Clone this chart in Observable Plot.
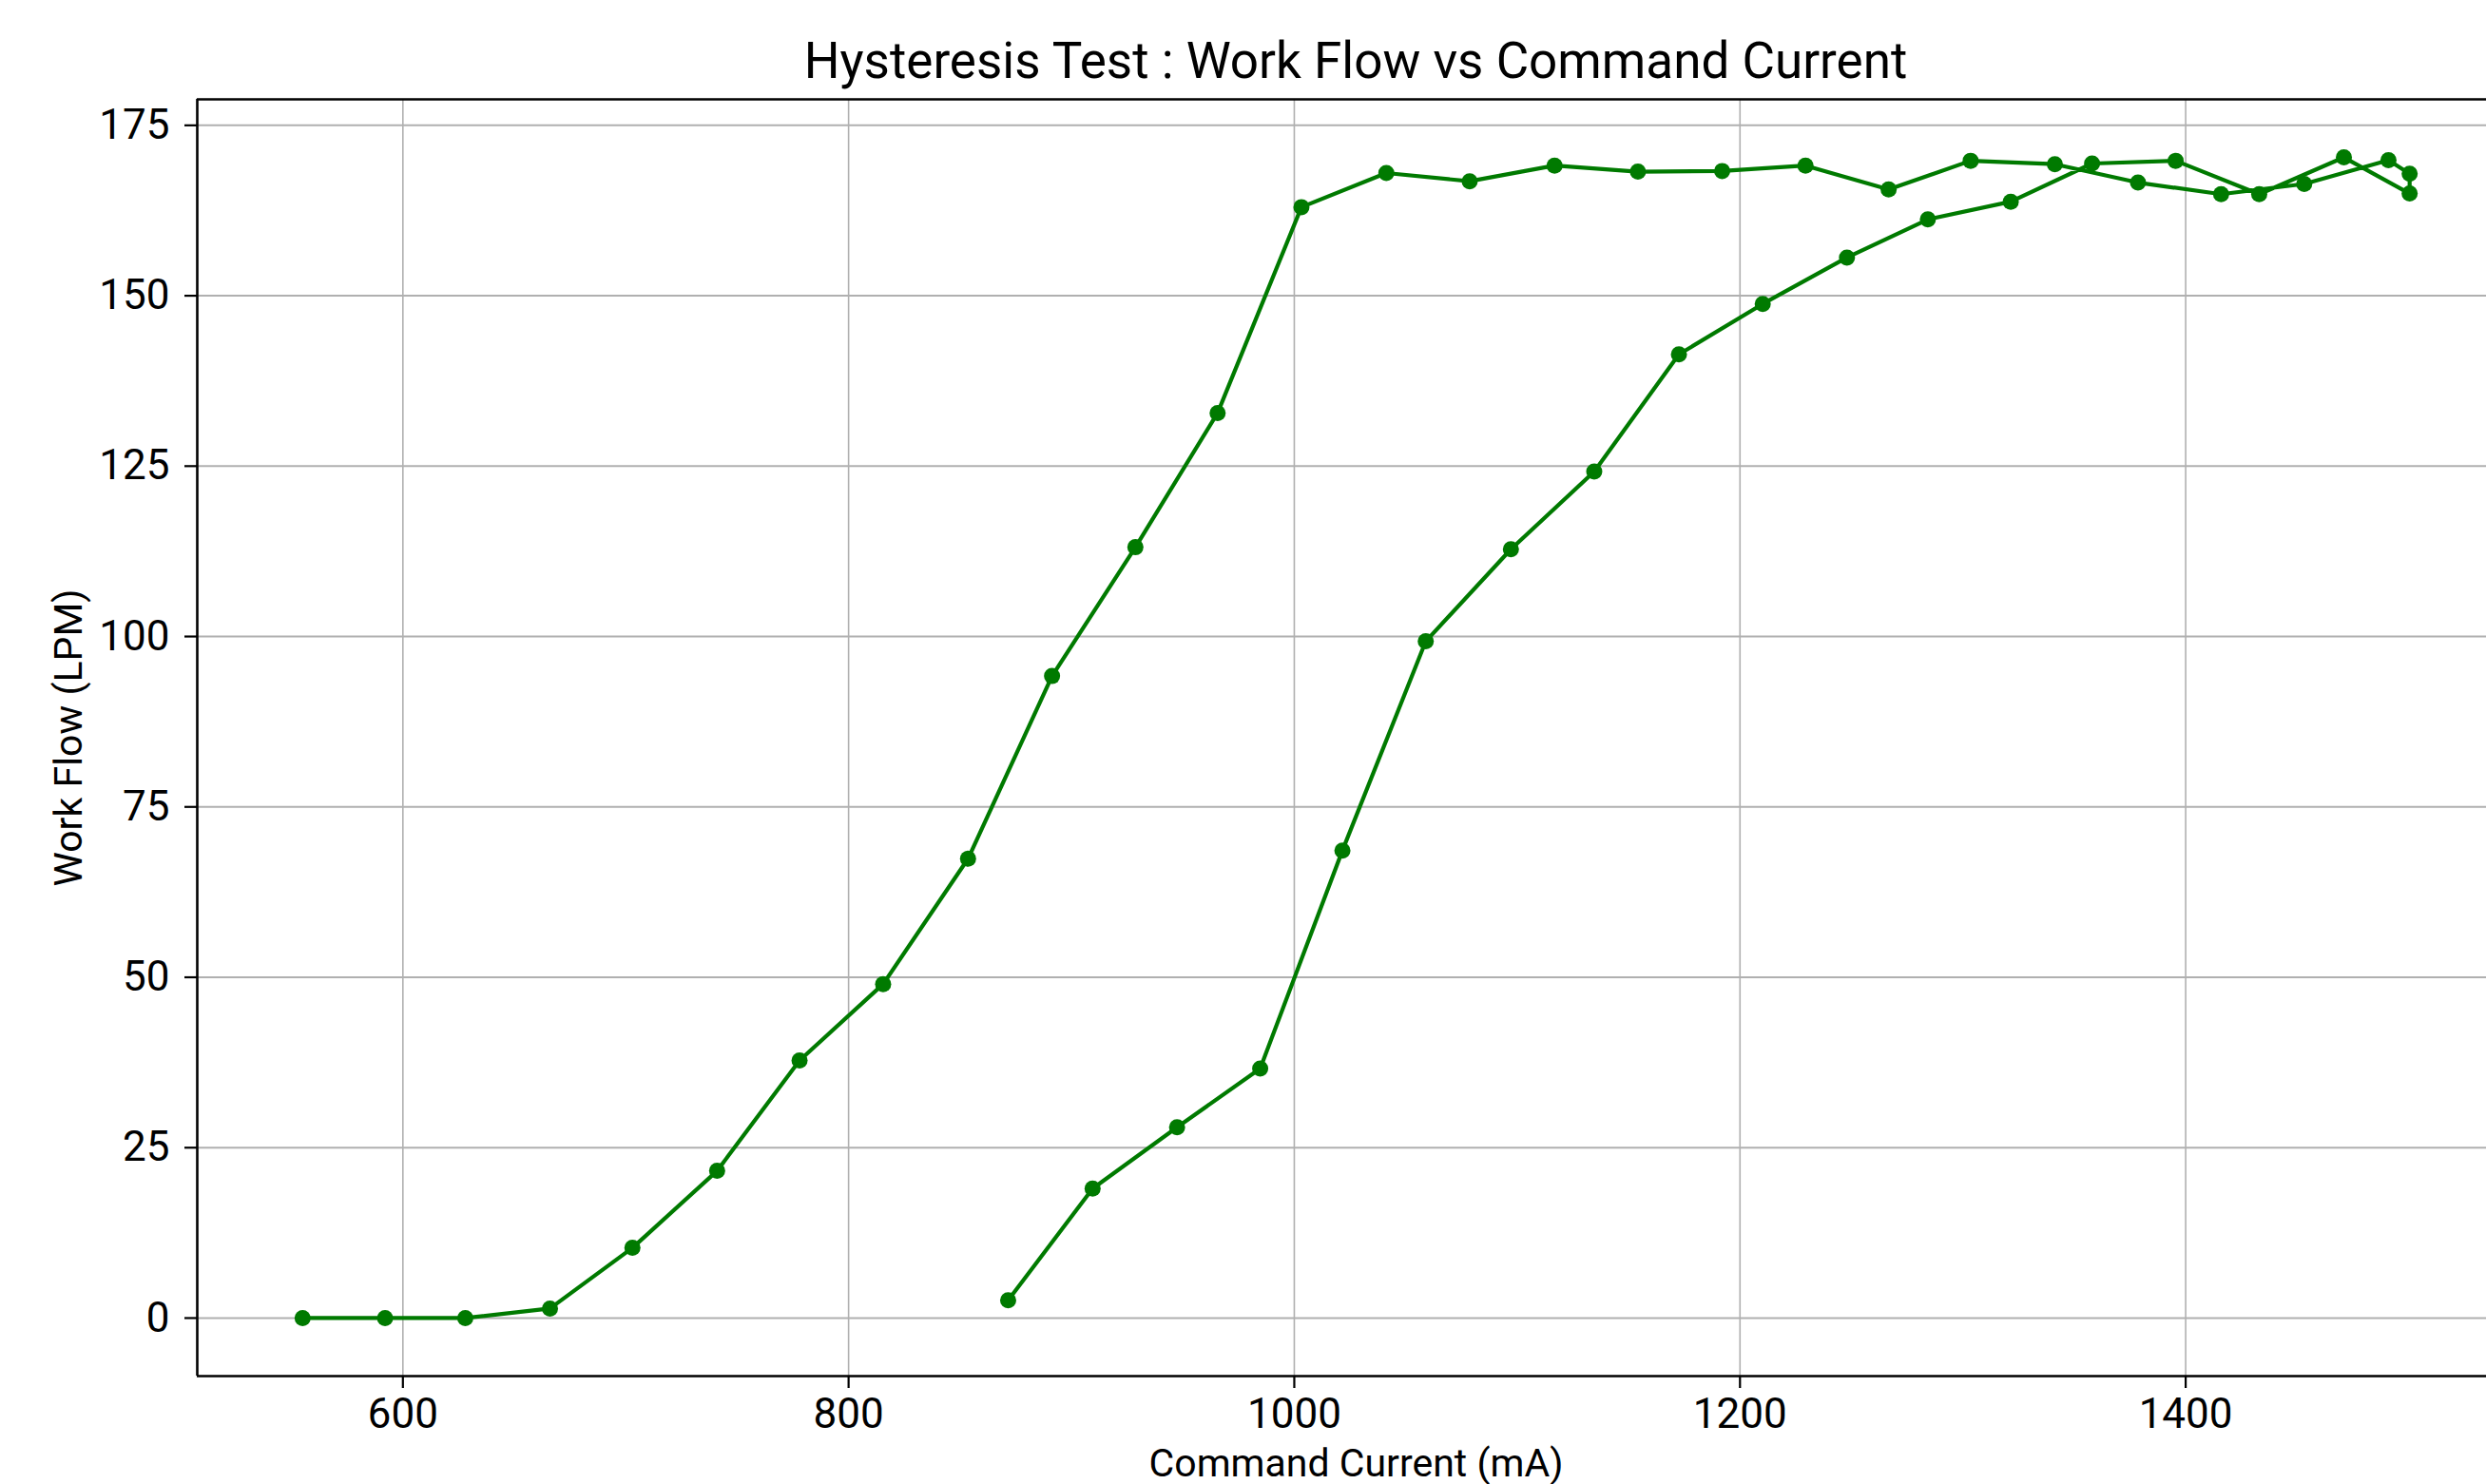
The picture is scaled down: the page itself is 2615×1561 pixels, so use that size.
<!DOCTYPE html>
<html>
<head>
<meta charset="utf-8">
<script src="https://cdn.jsdelivr.net/npm/d3@7"></script>
<script src="https://cdn.jsdelivr.net/npm/@observablehq/plot@0.6"></script>
<style>
  html, body { margin: 0; padding: 0; background: #fff; overflow: hidden; }
  #chart { width: 2660px; }
  #title {
    height: 96px;
    box-sizing: border-box;
    padding-left: 207px;
    padding-right: 15px;
    text-align: center;
    font-family: Roboto, "Open Sans", sans-serif;
    font-size: 53px;
    line-height: 128px;
    color: #000;
    white-space: nowrap;
  }
  #plot svg { max-width: none !important; }
  #plot svg g[aria-label^="x-axis"] path,
  #plot svg g[aria-label^="x-axis"] line,
  #plot svg g[aria-label^="y-axis"] path,
  #plot svg g[aria-label^="y-axis"] line { stroke-width: 2.2px; }
</style>
</head>
<body>
<div id="chart">
  <div id="title">Hysteresis Test : Work Flow vs Command Current</div>
  <div id="plot"></div>
</div>
<script>
// Rising sweep: command current (mA) and measured work flow (LPM)
const upCurrent = [555, 592, 628, 666, 703, 741, 778, 815.5, 853.6, 891.3, 928.7, 965.6,
  1003.2, 1041.3, 1078.7, 1116.8, 1154.2, 1192, 1229.4, 1266.7, 1303.5, 1341.3,
  1378.6, 1415.9, 1453.2, 1491, 1500.5];
const upFlow = [0, 0, 0, 1.4, 10.3, 21.6, 37.8, 49.0, 67.4, 94.2, 113.1, 132.8,
  163.0, 168.0, 166.8, 169.1, 168.2, 168.3, 169.1, 165.6, 169.8, 169.3,
  166.6, 164.9, 166.4, 169.9, 167.9];

// Falling sweep back down from the top current
const downCurrent = [1500.5, 1471, 1433, 1395.5, 1358, 1321.5, 1284.3, 1248, 1210.2,
  1172.6, 1134.6, 1097.2, 1059, 1021.6, 984.7, 947.4, 909.5, 871.6];
const downFlow = [165.0, 170.3, 164.9, 169.8, 169.4, 163.8, 161.2, 155.6, 148.8,
  141.4, 124.2, 112.8, 99.3, 68.6, 36.6, 28.0, 19.0, 2.6];

const xTicks = [600, 800, 1000, 1200, 1400];
const yTicks = [0, 25, 50, 75, 100, 125, 150, 175];

const lineColor = "#007a00";

// One continuous trace: up the rising sweep, then back down
const points = [
  ...upCurrent.map((c, i) => ({current: c, flow: upFlow[i]})),
  ...downCurrent.map((c, i) => ({current: c, flow: downFlow[i]}))
];

// Auto-limits with a 5% margin on each side of the data
function padded(values) {
  const [lo, hi] = d3.extent(values);
  const m = 0.05 * (hi - lo);
  return [lo - m, hi + m];
}
const xDomain = padded(points.map(d => d.current));
const yDomain = padded(points.map(d => d.flow));

const chart = Plot.plot({
  width: 2660,
  height: 1465,
  marginTop: 8,
  marginLeft: 207,
  marginRight: 15,
  marginBottom: 114,
  style: {
    fontFamily: "Roboto, 'Open Sans', sans-serif",
    fontSize: "44px",
    color: "#000",
    background: "#fff",
    overflow: "visible"
  },
  x: {domain: xDomain, ticks: xTicks, tickFormat: "d", tickSize: 13, tickPadding: 10, label: null},
  y: {domain: yDomain, ticks: yTicks, tickFormat: "d", tickSize: 13, tickPadding: 16, label: null},
  marks: [
    Plot.ruleX(xTicks, {stroke: "#b0b0b0", strokeWidth: 1.6}),
    Plot.ruleY(yTicks, {stroke: "#b0b0b0", strokeWidth: 2}),
    Plot.line(points, {x: "current", y: "flow", stroke: lineColor, strokeWidth: 4.2}),
    Plot.dot(points, {x: "current", y: "flow", r: 8.5, fill: lineColor, stroke: "none"}),
    // axes box: bottom, top and left spines
    Plot.ruleY(yDomain, {stroke: "#000", strokeWidth: 2.6}),
    Plot.ruleX(xDomain.slice(0, 1), {stroke: "#000", strokeWidth: 2.6}),
    Plot.text(["Command Current (mA)"], {
      text: d => d, frameAnchor: "bottom", lineAnchor: "middle", textAnchor: "middle",
      dy: 92, fontSize: 41, fill: "#000"
    }),
    Plot.text(["Work Flow (LPM)"], {
      text: d => d, frameAnchor: "left", lineAnchor: "middle", textAnchor: "middle",
      dx: -135, rotate: -90, fontSize: 41, fill: "#000"
    })
  ]
});

document.getElementById("plot").appendChild(chart);
</script>
</body>
</html>
